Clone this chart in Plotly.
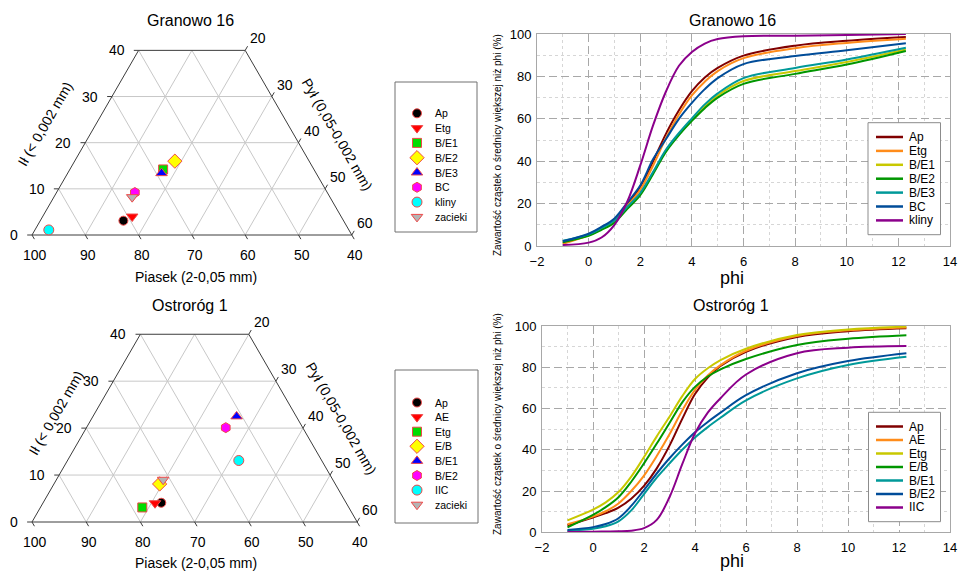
import math
import plotly.graph_objects as go

W, H = 958, 572
FONT = "Arial, Liberation Sans, sans-serif"
SQ3 = math.sqrt(3)

# ---------------- data ----------------
gr_title = "Granowo 16"
os_title = "Ostroróg 1"

# ternary: sand (Piasek) and clay (Ił) in %, silt = 100 - sand - clay
gr_tern_names = ["Ap", "Etg", "B/E1", "B/E2", "B/E3", "BC", "kliny", "zacieki"]
gr_sand = [81.3, 79.2, 68.3, 65.2, 69.0, 76.1, 96.3, 77.1]
gr_clay = [3.1, 4.0, 14.2, 16.0, 13.4, 9.2, 1.1, 8.2]

os_tern_names = ["Ap", "AE", "Etg", "E/B", "B/E1", "B/E2", "IIC", "zacieki"]
os_sand = [74.1, 75.3, 78.1, 72.4, 51.0, 54.2, 55.3, 71.3]
os_clay = [4.1, 4.0, 3.1, 8.1, 22.5, 20.1, 13.1, 9.0]

sand_ticks = [100, 90, 80, 70, 60, 50, 40]
clay_ticks = [0, 10, 20, 30, 40]
silt_ticks = [20, 30, 40, 50, 60]

# cumulative curves, Granowo 16
gr_phi = [-1, 0, 0.5, 1, 1.5, 2, 2.5, 3, 3.5, 4, 4.5, 5, 6, 8, 10, 12.29]
gr_Ap = [1.3, 5.5, 8.5, 12.5, 19.5, 28, 40, 53, 64, 73, 79.5, 84, 89.8, 94.5, 96.8, 98.6]
gr_Etg = [1.0, 5.2, 8.2, 12.0, 19.0, 26.5, 38, 51, 62, 71, 77.5, 82.5, 88.6, 93.3, 95.8, 97.8]
gr_BE1 = [2.0, 5.0, 8.0, 11.5, 18.0, 24.5, 34.5, 45, 52.8, 59.5, 65.8, 71, 77.8, 82.5, 86.8, 92.7]
gr_BE2 = [1.8, 4.8, 7.6, 11.0, 17.5, 24.0, 34, 44.5, 52.3, 59, 65, 70, 76.5, 81.2, 85.6, 92.0]
gr_BE3 = [2.5, 5.5, 8.5, 12.0, 18.5, 25.0, 35, 45.5, 53.3, 60.2, 66.8, 72, 79.2, 84, 88, 93.5]
gr_BC = [2.2, 5.8, 9.0, 13.0, 20.5, 28.5, 41, 50.5, 60, 67.5, 74, 79.2, 85.8, 89.6, 92.3, 95.6]
gr_kliny = [0.5, 1.6, 4.0, 10.0, 21.0, 38, 57, 73, 85, 91.5, 95.5, 97.6, 98.9, 99.2, 99.5, 100]
gr_line_names = ["Ap", "Etg", "B/E1", "B/E2", "B/E3", "BC", "kliny"]

# cumulative curves, Ostroróg 1
os_phi = [-1, 0, 0.5, 1, 1.5, 2, 2.5, 3, 3.5, 4, 4.5, 5, 6, 8, 10, 12.29]
os_Ap = [3.4, 7.2, 9.3, 12, 16.3, 22.5, 31, 42, 55, 67, 75, 80.6, 87.5, 94.7, 97.5, 98.9]
os_AE = [3.9, 7.6, 10.2, 14, 20, 27.5, 37, 47.5, 59, 69, 76, 81, 88, 95.2, 97.9, 99.3]
os_Etg = [5.8, 11, 14.5, 19.5, 27, 36.5, 46.5, 56, 66, 74.3, 79.5, 83.5, 89, 95.6, 98.3, 99.7]
os_EB = [2.4, 8.4, 12.2, 17, 24.5, 33.4, 43, 53, 63, 70.5, 75.5, 79, 84, 90.8, 93.8, 95.5]
os_BE1 = [0.8, 1.7, 2.9, 5.3, 10.6, 18.5, 26.5, 33.4, 40, 46, 51, 55.5, 64, 74.6, 81.1, 85.1]
os_BE2 = [1.1, 2.5, 4.0, 6.8, 12.8, 20.5, 28.5, 35.9, 42.5, 48.5, 53.5, 58, 66.5, 77.1, 83, 86.8]
os_IIC = [0.2, 0.3, 0.4, 0.5, 0.8, 2, 6, 17, 33, 48, 58, 65, 76.5, 86.8, 89.5, 90.3]
os_line_names = ["Ap", "AE", "Etg", "E/B", "B/E1", "B/E2", "IIC"]

# ---------------- styles ----------------
marker_symbols = ["circle", "triangle-down", "square", "diamond", "triangle-up", "hexagon", "circle", "triangle-down"]
marker_colors = ["#000000", "#FF0000", "#00DD00", "#FFFF00", "#0000FF", "#FF00FF", "#00FFFF", "#B4B4B4"]
marker_sizes = [9, 10, 9, 11, 10, 10, 10, 10]
marker_edge = "#F04848"
line_colors = ["#800000", "#FF8C1A", "#C8C800", "#009600", "#009999", "#004C99", "#8B008B"]


def px(x):
    return x / W


def py(y):
    return 1 - y / H


def tern(sand, clay):
    silt = 100 - sand - clay
    return silt + clay / 2.0, clay * SQ3 / 2.0


fig = go.Figure()
annotations = []
shapes = []


def add_ternary(xa, ya, names, sand, clay):
    gx, gy = [], []
    for c in (10, 20, 30):
        for p in (tern(100 - c, c), tern(40, c)):
            gx.append(p[0]); gy.append(p[1])
        gx.append(None); gy.append(None)
    for s in (90, 80, 70, 60, 50):
        ce = min(100 - s, 40)
        for p in (tern(s, 0), tern(s, ce)):
            gx.append(p[0]); gy.append(p[1])
        gx.append(None); gy.append(None)
    for t in (10, 20, 30, 40, 50):
        ce = min(60 - t, 40)
        for p in (tern(100 - t, 0), tern(100 - t - ce, ce)):
            gx.append(p[0]); gy.append(p[1])
        gx.append(None); gy.append(None)
    fig.add_trace(go.Scatter(x=gx, y=gy, mode="lines", line=dict(color="#C8C8C8", width=1),
                             xaxis=xa, yaxis=ya, showlegend=False, hoverinfo="skip"))
    # frame
    ex, ey = [], []
    for p in (tern(100, 0), tern(40, 0), tern(40, 40), tern(60, 40), tern(100, 0)):
        ex.append(p[0]); ey.append(p[1])
    ex.append(None); ey.append(None)
    L = 0.9
    for c in clay_ticks:
        x, y = tern(100 - c, c)
        ex += [x, x - L, None]; ey += [y, y, None]
    for s in sand_ticks:
        x, y = tern(s, 0)
        ex += [x, x + L * 0.5, None]; ey += [y, y - L * SQ3 / 2, None]
    for t in silt_ticks:
        x, y = tern(40, 60 - t)
        ex += [x, x + L * 0.5, None]; ey += [y, y + L * SQ3 / 2, None]
    fig.add_trace(go.Scatter(x=ex, y=ey, mode="lines", line=dict(color="#3C3C3C", width=1),
                             xaxis=xa, yaxis=ya, showlegend=False, hoverinfo="skip"))
    # points
    for i, n in enumerate(names):
        x, y = tern(sand[i], clay[i])
        fig.add_trace(go.Scatter(x=[x], y=[y], mode="markers", name=n,
                                 marker=dict(symbol=marker_symbols[i], color=marker_colors[i],
                                             size=marker_sizes[i], line=dict(color=marker_edge, width=1)),
                                 xaxis=xa, yaxis=ya, showlegend=False, cliponaxis=False))
    # tick labels
    tf = dict(family=FONT, size=14, color="black")
    for c in clay_ticks:
        x, y = tern(100 - c, c)
        annotations.append(dict(x=x, y=y, xref=xa, yref=ya, text=str(c), showarrow=False,
                                xanchor="right", yanchor="middle", xshift=-12, font=tf))
    for s in sand_ticks:
        x, y = tern(s, 0)
        annotations.append(dict(x=x, y=y, xref=xa, yref=ya, text=str(s), showarrow=False,
                                xanchor="center", yanchor="middle", xshift=3, yshift=-20, font=tf))
    for t in silt_ticks:
        x, y = tern(40, 60 - t)
        annotations.append(dict(x=x, y=y, xref=xa, yref=ya, text=str(t), showarrow=False,
                                xanchor="left", yanchor="middle", xshift=3, yshift=12, font=tf))


add_ternary("x2", "y2", gr_tern_names, gr_sand, gr_clay)
add_ternary("x3", "y3", os_tern_names, os_sand, os_clay)


# ternary legends (own small axes whose range is the box in pixels)
def add_tern_legend(xa, ya, names, y0, step):
    for i, n in enumerate(names):
        yy = y0 + i * step
        fig.add_trace(go.Scatter(x=[417], y=[yy], mode="markers",
                                 marker=dict(symbol=marker_symbols[i], color=marker_colors[i],
                                             size=marker_sizes[i], line=dict(color=marker_edge, width=1)),
                                 xaxis=xa, yaxis=ya, showlegend=False, hoverinfo="skip", cliponaxis=False))
        annotations.append(dict(x=433, y=yy, xref=xa, yref=ya, text=n, showarrow=False,
                                xanchor="left", yanchor="middle",
                                font=dict(family=FONT, size=10.5, color="black")))


add_tern_legend("x5", "y5", gr_tern_names, 113.3, 14.8)
add_tern_legend("x6", "y6", os_tern_names, 402.5, 14.6)
shapes.append(dict(type="rect", xref="paper", yref="paper", x0=px(395), x1=px(477), y0=py(232), y1=py(82),
                   line=dict(color="#707070", width=1), layer="below"))
shapes.append(dict(type="rect", xref="paper", yref="paper", x0=px(395), x1=px(478), y0=py(523), y1=py(370),
                   line=dict(color="#707070", width=1), layer="below"))

# cumulative curves
gr_series = [gr_Ap, gr_Etg, gr_BE1, gr_BE2, gr_BE3, gr_BC, gr_kliny]
os_series = [os_Ap, os_AE, os_Etg, os_EB, os_BE1, os_BE2, os_IIC]
for i, vals in enumerate(gr_series):
    fig.add_trace(go.Scatter(x=gr_phi, y=vals, mode="lines", name=gr_line_names[i],
                             line=dict(color=line_colors[i], width=2, shape="spline", smoothing=1.0),
                             xaxis="x", yaxis="y", showlegend=False))
for i, vals in enumerate(os_series):
    fig.add_trace(go.Scatter(x=os_phi, y=vals, mode="lines", name=os_line_names[i],
                             line=dict(color=line_colors[i], width=2, shape="spline", smoothing=1.0),
                             xaxis="x4", yaxis="y4", showlegend=False))


def add_line_legend(names, box, y0, step):
    x0, x1, t0, t1 = box
    shapes.append(dict(type="rect", xref="paper", yref="paper", x0=px(x0), x1=px(x1), y0=py(t1), y1=py(t0),
                       line=dict(color="#8C8C8C", width=1), fillcolor="white", layer="above"))
    for i, n in enumerate(names):
        yy = y0 + i * step
        shapes.append(dict(type="line", xref="paper", yref="paper", x0=px(876), x1=px(903), y0=py(yy), y1=py(yy),
                           line=dict(color=line_colors[i], width=2.5), layer="above"))
        annotations.append(dict(x=px(907), y=py(yy), xref="paper", yref="paper", text=n, showarrow=False,
                                xanchor="left", yanchor="middle",
                                font=dict(family=FONT, size=12, color="black")))


add_line_legend(gr_line_names, (868, 940.5, 122.7, 234.7), 137, 13.9)
add_line_legend(os_line_names, (868.5, 940.5, 412.3, 521.7), 426.5, 13.5)

# titles
tt = dict(family=FONT, size=16, color="black")
for text, x, y in [(gr_title, 190, 20), (os_title, 190, 305), (gr_title, 732, 20), (os_title, 731, 305)]:
    annotations.append(dict(x=px(x), y=py(y), xref="paper", yref="paper", text=text, showarrow=False,
                            xanchor="center", yanchor="middle", font=tt))
at = dict(family=FONT, size=14, color="black")
for y in (277, 563):
    annotations.append(dict(x=px(196), y=py(y), xref="paper", yref="paper", text="Piasek (2-0,05 mm)",
                            showarrow=False, xanchor="center", yanchor="middle", font=at))
for x, y in ((45, 124), (56, 413)):
    annotations.append(dict(x=px(x), y=py(y), xref="paper", yref="paper", text="Ił (< 0,002 mm)",
                            showarrow=False, xanchor="center", yanchor="middle", textangle=-60, font=at))
for x, y in ((337, 134), (341, 418)):
    annotations.append(dict(x=px(x), y=py(y), xref="paper", yref="paper", text="Pył (0,05-0,002 mm)",
                            showarrow=False, xanchor="center", yanchor="middle", textangle=60, font=at))
for y in (278, 561):
    annotations.append(dict(x=px(732), y=py(y), xref="paper", yref="paper", text="phi", showarrow=False,
                            xanchor="center", yanchor="middle", font=dict(family=FONT, size=18, color="black")))
for y in (145, 424):
    annotations.append(dict(x=px(497), y=py(y), xref="paper", yref="paper",
                            text="Zawartość cząstek o średnicy większej niż phi (%)", showarrow=False,
                            xanchor="center", yanchor="middle", textangle=-90,
                            font=dict(family=FONT, size=10, color="black")))

# axes
tickf = dict(family=FONT, size=13, color="black")
grid_major = dict(showgrid=True, gridcolor="#A8A8A8", griddash="8px,4px", gridwidth=1,
                  showline=True, mirror=True, linecolor="#A8A8A8", linewidth=1, zeroline=False,
                  ticks="", tickfont=tickf, automargin=False)


def xline(domain, anchor):
    d = dict(domain=domain, anchor=anchor, range=[-2, 14], dtick=2, tick0=0, ticklabelstandoff=3,
             minor=dict(dtick=1, showgrid=True, gridcolor="#D6D6D6", griddash="dot"))
    d.update(grid_major)
    return d


def yline(domain, anchor):
    d = dict(domain=domain, anchor=anchor, range=[0, 100], dtick=20, tick0=0, ticklabelstandoff=2,
             minor=dict(dtick=10, showgrid=True, gridcolor="#D6D6D6", griddash="dot"))
    d.update(grid_major)
    return d


def hidden(domain, rng, anchor):
    return dict(domain=domain, range=rng, visible=False, anchor=anchor, fixedrange=True, automargin=False)


# ternary axes: equal scale, origin (sand 100) at given pixel
def tern_axes(ox, oy, s, xd, yd):
    xr = [(xd[0] - ox) / s, (xd[1] - ox) / s]
    yr = [(oy - yd[1]) / s, (oy - yd[0]) / s]
    return xr, yr


xr2, yr2 = tern_axes(32, 235, 5.33, (0, 385), (0, 286))
xr3, yr3 = tern_axes(32, 522, 5.42, (0, 385), (286, 572))

fig.update_layout(
    width=W, height=H, margin=dict(l=0, r=0, t=0, b=0, pad=0, autoexpand=False),
    paper_bgcolor="white", plot_bgcolor="rgba(0,0,0,0)",
    showlegend=False,
    xaxis=xline([px(537), px(950)], "y"),
    yaxis=yline([py(246), py(34)], "x"),
    xaxis4=xline([px(542), px(950)], "y4"),
    yaxis4=yline([py(532.3), py(326)], "x4"),
    xaxis2=hidden([0, px(385)], xr2, "y2"),
    yaxis2=hidden([py(286), 1], yr2, "x2"),
    xaxis3=hidden([0, px(385)], xr3, "y3"),
    yaxis3=hidden([0, py(286)], yr3, "x3"),
    xaxis5=hidden([px(395), px(477)], [395, 477], "y5"),
    yaxis5=hidden([py(232), py(82)], [232, 82], "x5"),
    xaxis6=hidden([px(395), px(478)], [395, 478], "y6"),
    yaxis6=hidden([py(523), py(370)], [523, 370], "x6"),
    annotations=annotations,
    shapes=shapes,
    font=dict(family=FONT, color="black"),
)

fig.write_html("out.html", config={"displayModeBar": False},
               post_script="document.body.style.margin='0';document.body.style.padding='0';")
